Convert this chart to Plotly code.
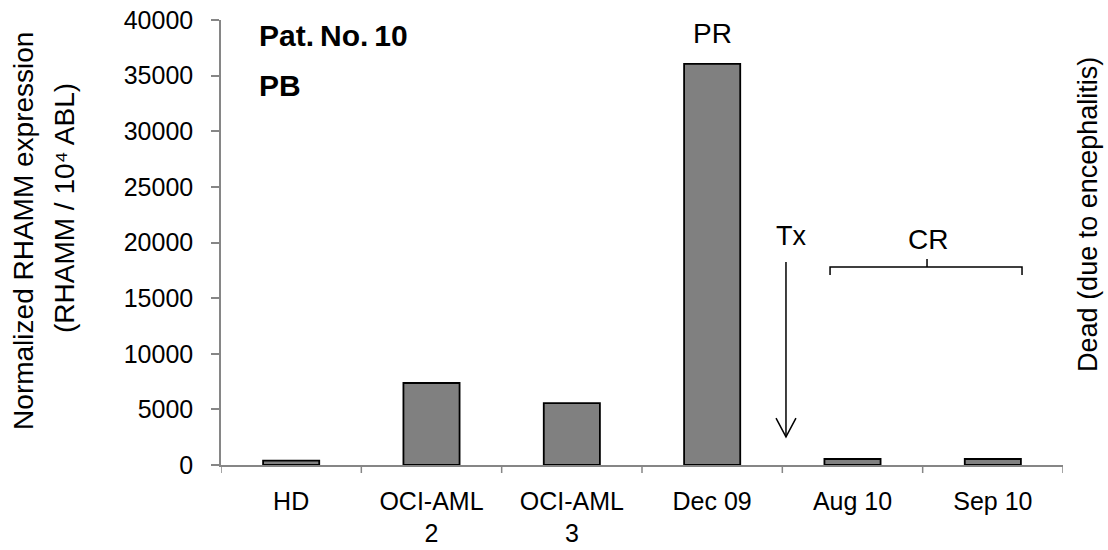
import plotly.graph_objects as go

categories = ["HD", "OCI-AML<br>2", "OCI-AML<br>3", "Dec 09", "Aug 10", "Sep 10"]
values = [390, 7370, 5570, 36050, 540, 540]
y_ticks = [0, 5000, 10000, 15000, 20000, 25000, 30000, 35000, 40000]

FONT = "Liberation Sans, Arial, sans-serif"
AXIS_COLOR = "#868686"

fig = go.Figure()
fig.add_trace(go.Bar(
    x=list(range(len(categories))),
    y=values,
    width=0.4,
    marker=dict(color="#808080", line=dict(color="#000000", width=1.8)),
    showlegend=False,
))

fig.update_layout(
    width=1108, height=550,
    margin=dict(l=221, r=45, t=20, b=85),
    plot_bgcolor="white", paper_bgcolor="white",
    font=dict(family=FONT, size=25, color="black"),
)
fig.update_xaxes(
    range=[-0.5, 5.5],
    tickmode="array",
    tickvals=list(range(len(categories))),
    ticktext=categories,
    showline=True, linecolor=AXIS_COLOR, linewidth=1.5,
    ticks="", showgrid=False, zeroline=False,
    tickfont=dict(size=25, family=FONT),
    ticklabelstandoff=13,
    automargin=False,
)
fig.update_yaxes(
    range=[0, 40000],
    tickmode="array",
    tickvals=y_ticks,
    ticktext=[str(v) for v in y_ticks],
    showline=True, linecolor=AXIS_COLOR, linewidth=1.5,
    ticks="outside", ticklen=8, tickcolor=AXIS_COLOR, tickwidth=1.5,
    showgrid=False, zeroline=False,
    tickfont=dict(size=25, family=FONT),
    ticklabelstandoff=13,
    automargin=False,
)

# x boundary ticks between categories
for b in [-0.5, 0.5, 1.5, 2.5, 3.5, 4.5, 5.5]:
    fig.add_shape(type="line", xref="x", yref="paper", x0=b, x1=b, y0=0, y1=-0.018,
                  line=dict(color=AXIS_COLOR, width=1.5))

annotations = [
    # y-axis title (two lines)
    dict(text="Normalized RHAMM expression", xref="paper", yref="paper",
         x=-0.234, y=0.526, xanchor="center", yanchor="middle", textangle=-90,
         showarrow=False, font=dict(size=28, family=FONT)),
    dict(text="(RHAMM / 10⁴ ABL)", xref="paper", yref="paper",
         x=-0.185, y=0.578, xanchor="center", yanchor="middle", textangle=-90,
         showarrow=False, font=dict(size=28, family=FONT)),
    # title
    dict(text="<b>Pat.\u2009No.\u200910</b>", xref="paper", yref="paper", x=0.043, y=(465 - 36) / 445,
         xanchor="left", yanchor="middle", showarrow=False, font=dict(size=30, family=FONT)),
    dict(text="<b>PB</b>", xref="paper", yref="paper", x=0.043, y=(465 - 85) / 445,
         xanchor="left", yanchor="middle", showarrow=False, font=dict(size=30, family=FONT)),
    # PR / Tx / CR
    dict(text="PR", xref="x", yref="paper", x=3.0, y=(465 - 33) / 445, yanchor="middle",
         showarrow=False, font=dict(size=28, family=FONT)),
    dict(text="Tx", xref="x", yref="paper", x=3.56, y=(465 - 236) / 445, yanchor="middle",
         showarrow=False, font=dict(size=27, family=FONT)),
    dict(text="CR", xref="x", yref="paper", x=4.535, y=(465 - 239) / 445, yanchor="middle",
         showarrow=False, font=dict(size=28, family=FONT)),
    # Dead label
    dict(text="Dead (due to encephalitis)", xref="paper", yref="paper", x=1.0297, y=0.562,
         xanchor="center", yanchor="middle", textangle=-90, showarrow=False,
         font=dict(size=27, family=FONT)),
]
fig.update_layout(annotations=annotations)

# Tx arrow shaft and open head
fig.add_shape(type="line", xref="x", yref="y", x0=3.526, x1=3.526, y0=18250, y1=2520,
              line=dict(color="black", width=1.5))
fig.add_shape(type="path", xref="x", yref="y",
              path="M 3.455,4220 L 3.526,2520 L 3.597,4220",
              line=dict(color="black", width=1.5))
# CR bracket
fig.add_shape(type="path", xref="x", yref="y",
              path="M 3.84,17080 L 3.84,17800 L 5.208,17800 L 5.208,17080 M 4.531,17800 L 4.531,18520",
              line=dict(color="black", width=1.5))

fig.write_html("out.html")
